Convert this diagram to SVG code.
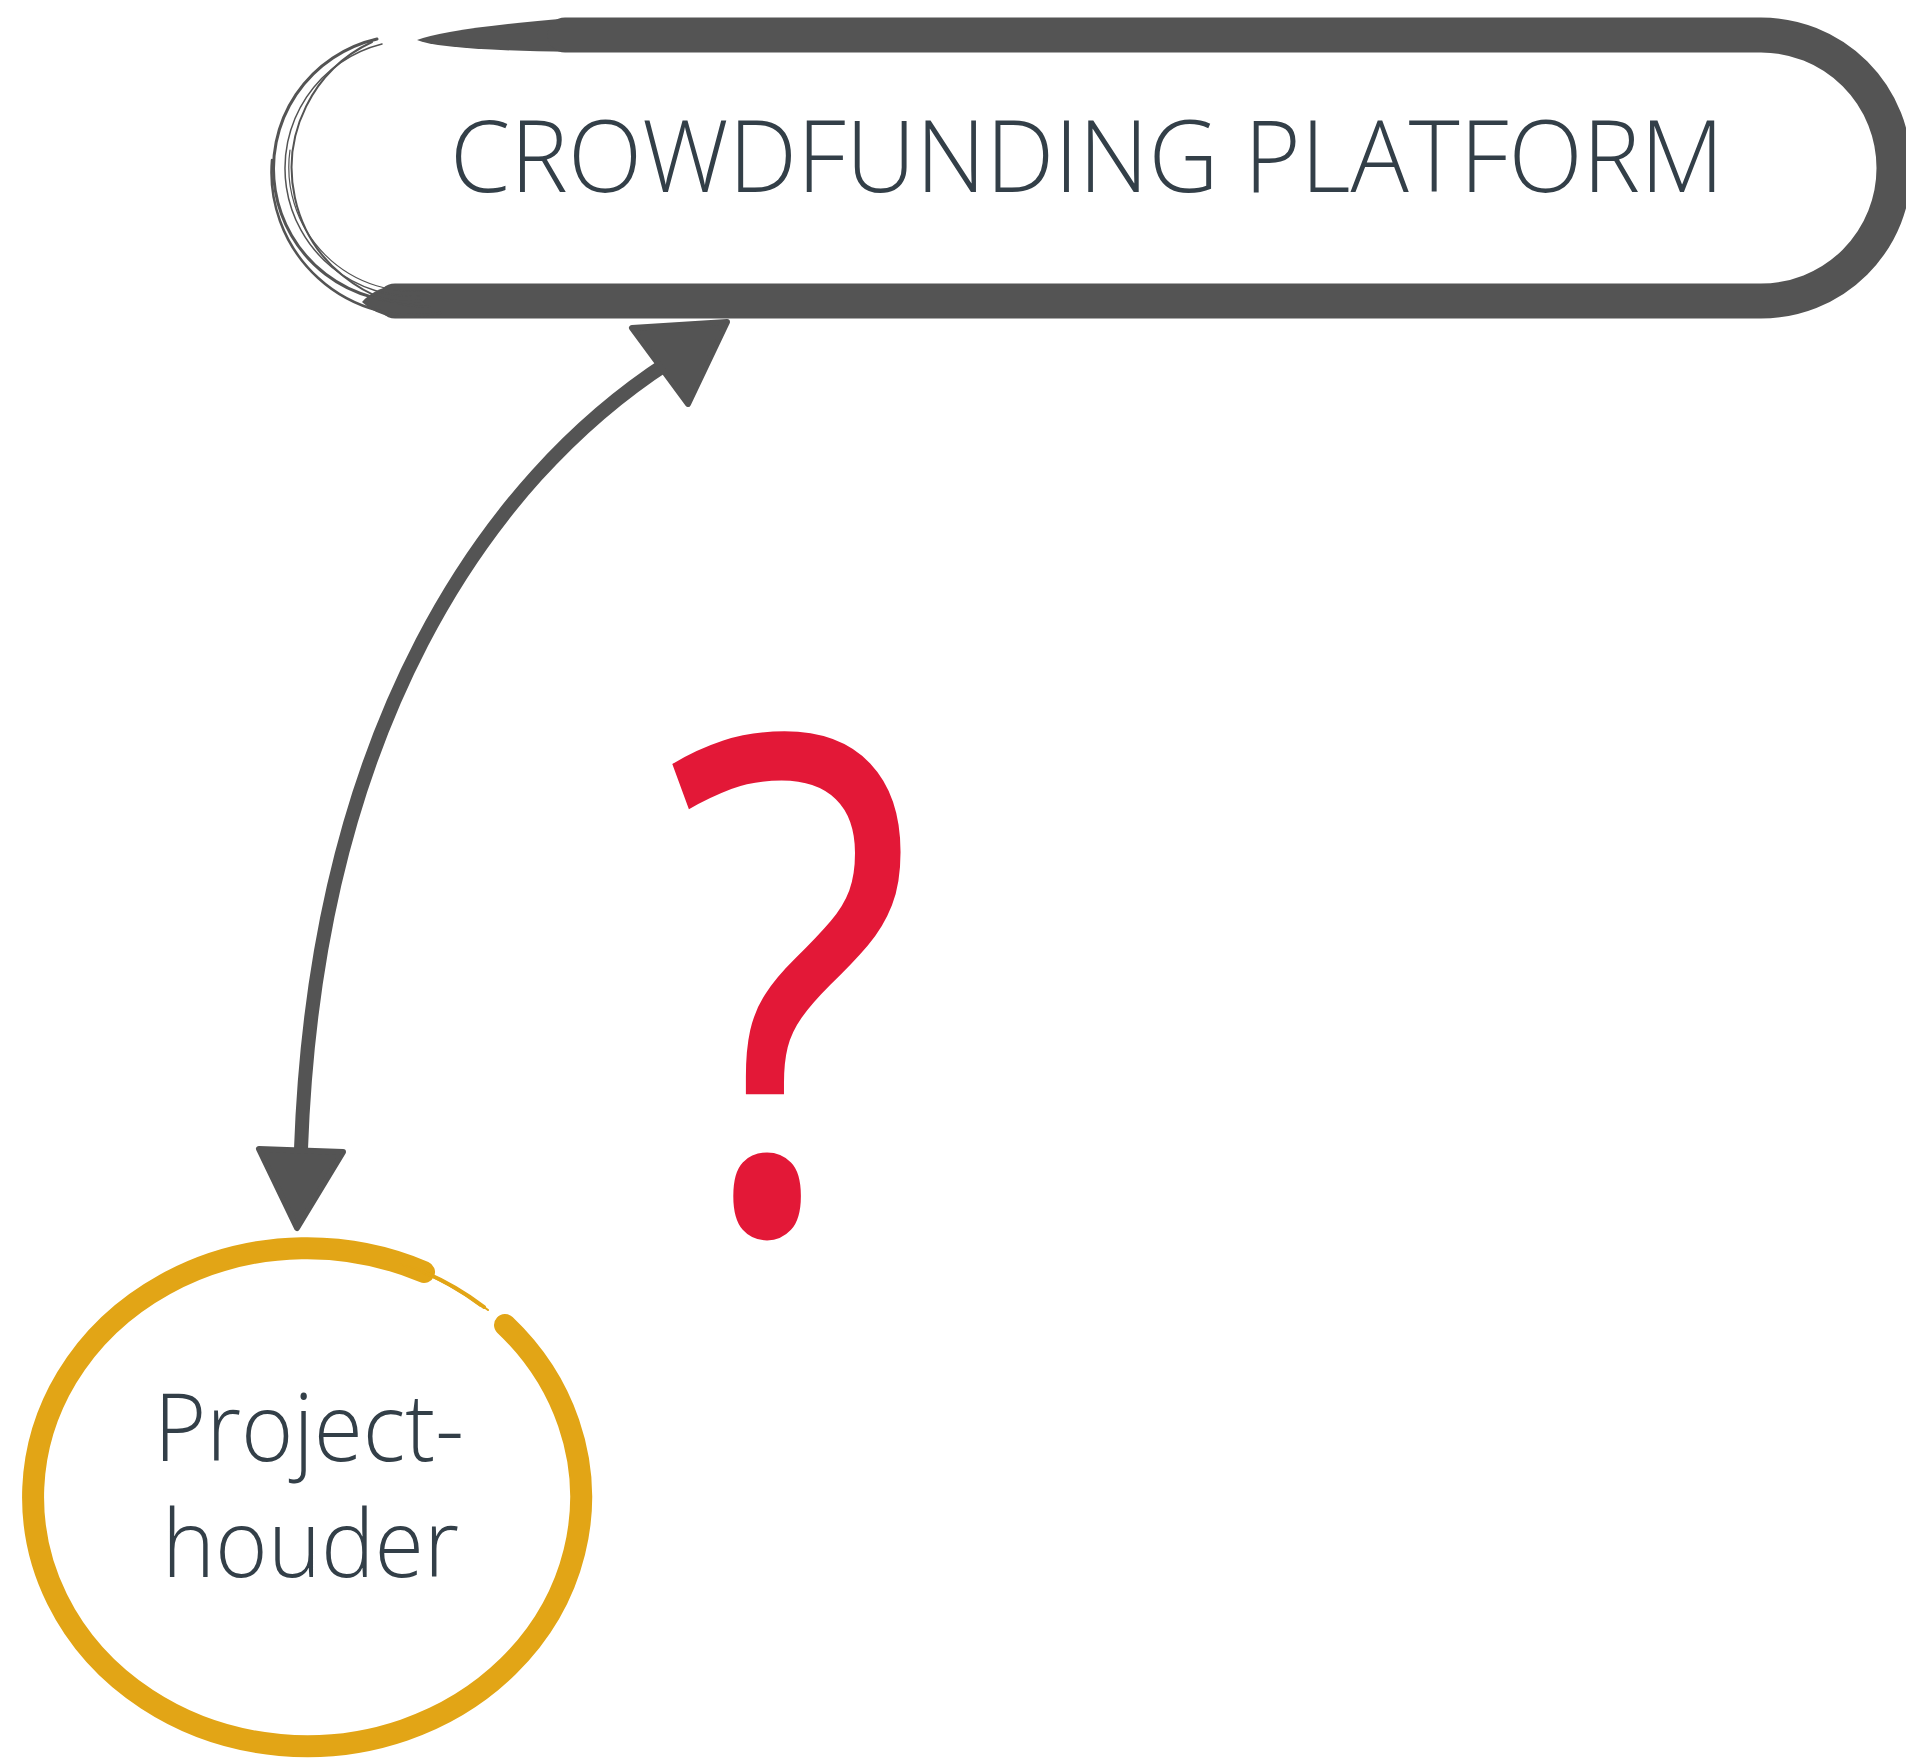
<svg xmlns="http://www.w3.org/2000/svg" width="1906" height="1758" viewBox="0 0 1906 1758">
<style>
.ink{fill:none;stroke:#545454;stroke-linecap:round;stroke-linejoin:round}
.head{fill:#545454;stroke:#545454;stroke-width:6;stroke-linejoin:round}
.gold{fill:none;stroke:#E2A516;stroke-linecap:round}
.lbl{font-family:"Open Sans","Noto Sans","Liberation Sans",sans-serif;font-weight:300;fill:#333F48}
</style>
<rect width="1906" height="1758" fill="#ffffff"/>
<g id="platform">
  <path d="M417 40 Q450 28 571 18 L571 52 Q440 50 417 40 Z" fill="#545454"/>
  <path class="ink" stroke-width="35" d="M565 35 L1761 35 A133 133 0 0 1 1761 301 L395 301" stroke-linecap="butt"/>
  <path d="M396 284 Q372 290 362 302 Q374 314 396 318 Z" fill="#545454"/>
  <path class="ink" stroke-width="3" d="M420 301 A133 133 0 0 1 377 39"/>
  <path class="ink" stroke-width="2" d="M430 307 A139 139 0 0 1 372 42"/>
  <path class="ink" stroke-width="1.5" d="M420 296 A128 128 0 0 1 382 44"/>
  <path class="ink" stroke-width="2.5" d="M440 313 A143 143 0 0 1 272 160"/>
  <path class="ink" stroke-width="1.2" d="M430 290 A124 124 0 0 1 290 150"/>
  <text class="lbl" x="450" y="192" font-size="100" textLength="1274" lengthAdjust="spacingAndGlyphs">CROWDFUNDING PLATFORM</text>
</g>
<g id="projecthouder">
  <path class="gold" stroke-width="22" d="M505 1325 A274 249 0 1 1 424 1272"/>
  <path class="gold" stroke-width="4" d="M424 1272 A274 249 0 0 1 484 1307"/>
  <path class="gold" stroke-width="2" d="M410 1266 A276 251 0 0 1 488 1310"/>
  <path class="gold" stroke-width="1.5" d="M400 1264 A272 246 0 0 1 480 1306"/>
  <text class="lbl" x="154" y="1461" font-size="94" textLength="310" lengthAdjust="spacingAndGlyphs">Project-</text>
  <text class="lbl" x="162" y="1577" font-size="94" textLength="297" lengthAdjust="spacingAndGlyphs">houder</text>
</g>
<g id="question">
  <text x="0" y="0" transform="translate(790 1231) scale(0.85 1)" font-family="Open Sans, Noto Sans, Liberation Sans, sans-serif" font-weight="500" font-size="690" fill="#E31837" text-anchor="middle">?</text>
</g>
<g id="connectors">
  <path class="ink" stroke-width="14" d="M669 362 C486 480 316 729 301 1149"/>
  <polygon class="head" points="632,328 727,322 688,404"/>
  <polygon class="head" points="259,1149 343,1152 297,1228"/>
</g>
</svg>
